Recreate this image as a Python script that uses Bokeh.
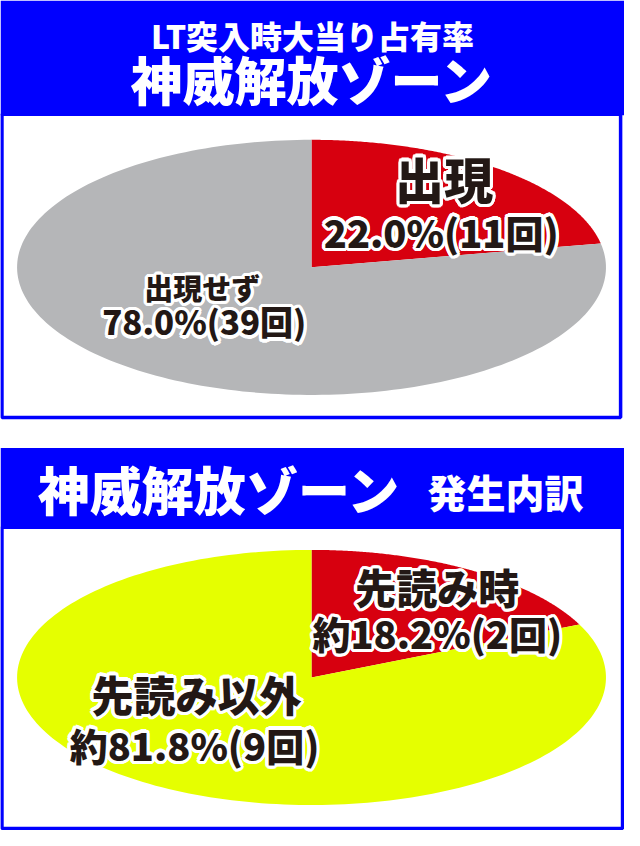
import numpy as np
from bokeh.core.properties import value
from bokeh.embed import file_html
from bokeh.models import Range1d
from bokeh.plotting import figure
from bokeh.resources import INLINE

# chart data
top_title = "LT突入時大当り占有率"
top_name = "神威解放ゾーン"
top_labels = ["出現", "出現せず"]
top_counts = [11, 39]
top_texts = ["22.0%(11回)", "78.0%(39回)"]
top_colors = ["#d7000f", "#b5b6b8"]

bottom_name = "神威解放ゾーン"
bottom_sub = "発生内訳"
bottom_labels = ["先読み時", "先読み以外"]
bottom_counts = [2, 9]
bottom_texts = ["約18.2%(2回)", "約81.8%(9回)"]
bottom_colors = ["#d7000f", "#e5ff00"]

BLUE = "#0000ff"
INK = "#231815"
FONT = value("'Noto Sans CJK JP Black', 'Noto Sans CJK JP'")

W, H = 640, 846  # reference canvas units

p = figure(width=624, height=830, x_range=Range1d(0, W), y_range=Range1d(H, 0),
           output_backend="svg", toolbar_location=None, tools="", min_border=0)
p.axis.visible = False
p.grid.visible = False
p.outline_line_color = None
p.background_fill_color = "white"

# blue headers
p.quad(left=[0, 0], right=[W, W], top=[0, 456], bottom=[117, 537],
       fill_color=BLUE, line_color=None)
# framed boxes
p.quad(left=[1.5, 1.5], right=[636, 638], top=[116, 537], bottom=[425, 844],
       fill_color="white", line_color=BLUE, line_width=3.5)


def pie(counts, colors, cx, cy, a, b, name):
    # unit-circle pie, stretched into an ellipse by its own ranges
    p.extra_x_ranges[name + "x"] = Range1d(-cx / a, (W - cx) / a)
    p.extra_y_ranges[name + "y"] = Range1d((cy - H) / b, cy / b)
    frac = np.cumsum([0] + counts) / sum(counts)
    xs, ys = [], []
    for i in range(len(counts)):
        t = np.pi / 2 - 2 * np.pi * np.linspace(frac[i], frac[i + 1], 200)
        xs.append(np.concatenate([[0], np.cos(t)]))
        ys.append(np.concatenate([[0], np.sin(t)]))
    p.patches(xs, ys, fill_color=colors, line_color=None,
              x_range_name=name + "x", y_range_name=name + "y")


pie(top_counts, top_colors, 319, 272, 302, 130, "top")
pie(bottom_counts, bottom_colors, 319, 690, 302, 130, "bot")

# white halo offsets (screen px)
ang = np.linspace(0, 2 * np.pi, 16, endpoint=False)
HX = np.concatenate([3.2 * np.cos(ang), 1.8 * np.cos(ang)])
HY = np.concatenate([3.2 * np.sin(ang), 1.8 * np.sin(ang)])


def label(x, y, txt, size, color=INK, halo=True):
    style = dict(text_font=FONT, text_font_style="bold", text_font_size=size,
                 text_align="center", text_baseline="middle")
    if halo:
        n = len(HX)
        p.text(x=[x] * n, y=[y] * n, text=[txt] * n, x_offset=HX, y_offset=HY,
               text_color="white", **style)
    p.text(x=[x], y=[y], text=[txt], text_color=color, **style)


# headers
label(320, 35, top_title, "32px", "white", False)
label(320, 80, top_name, "52px", "white", False)
label(225, 497, bottom_name, "52px", "white", False)
label(518, 500, bottom_sub, "39px", "white", False)

# slice labels
label(455, 180, top_labels[0], "49px")
label(452, 235, top_texts[0], "38px")
label(207, 292, top_labels[1], "29px")
label(209, 327, top_texts[1], "33px")

label(448, 597, bottom_labels[0], "41px")
label(448, 644, bottom_texts[0], "38px")
label(201, 706, bottom_labels[1], "42px")
label(199, 758, bottom_texts[1], "38px")

open("out.html", "w").write(file_html(p, INLINE))
